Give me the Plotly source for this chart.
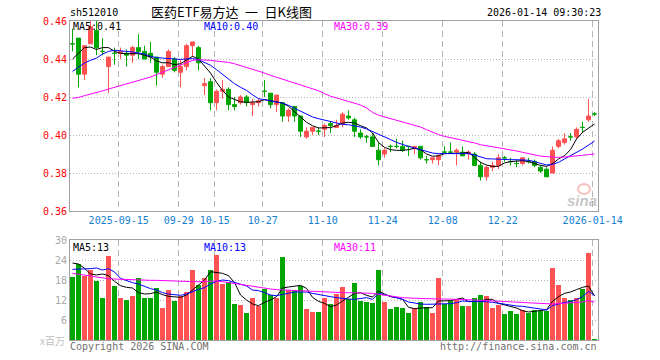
import plotly.graph_objects as go

W, H = 660, 360

# ---------------- data ----------------
opens = [0.448, 0.451, 0.432, 0.448, 0.455, 0.444, 0.436, 0.443, 0.443, 0.443,
         0.442, 0.446, 0.444, 0.443, 0.441, 0.432, 0.436, 0.440, 0.433, 0.436,
         0.447, 0.446, 0.426, 0.428, 0.417, 0.423, 0.424, 0.416, 0.417, 0.420,
         0.416, 0.417, 0.423, 0.422, 0.416, 0.417, 0.410, 0.415, 0.410, 0.399,
         0.402, 0.402, 0.403, 0.406, 0.404, 0.406, 0.410, 0.408, 0.401, 0.399,
         0.399, 0.392, 0.390, 0.394, 0.394, 0.394, 0.394, 0.393, 0.394, 0.387,
         0.387, 0.387, 0.391, 0.391, 0.391, 0.391, 0.390, 0.390, 0.384, 0.378,
         0.383, 0.384, 0.388, 0.386, 0.385, 0.385, 0.386, 0.386, 0.383, 0.382,
         0.380, 0.394, 0.396, 0.399, 0.399, 0.404, 0.408, 0.411]
highs = [0.456, 0.451, 0.447, 0.460, 0.460, 0.451, 0.441, 0.446, 0.446, 0.445,
         0.447, 0.453, 0.447, 0.449, 0.441, 0.437, 0.445, 0.441, 0.440, 0.448,
         0.449, 0.447, 0.430, 0.430, 0.424, 0.429, 0.425, 0.420, 0.421, 0.421,
         0.419, 0.419, 0.429, 0.422, 0.421, 0.417, 0.414, 0.415, 0.410, 0.404,
         0.404, 0.404, 0.406, 0.407, 0.408, 0.412, 0.413, 0.409, 0.403, 0.400,
         0.401, 0.396, 0.393, 0.395, 0.398, 0.397, 0.394, 0.394, 0.394, 0.389,
         0.388, 0.390, 0.394, 0.396, 0.393, 0.394, 0.392, 0.391, 0.386, 0.384,
         0.386, 0.390, 0.389, 0.388, 0.387, 0.388, 0.388, 0.387, 0.384, 0.383,
         0.394, 0.398, 0.401, 0.401, 0.404, 0.407, 0.419, 0.412]
lows = [0.444, 0.425, 0.429, 0.448, 0.442, 0.442, 0.422, 0.437, 0.440, 0.436,
        0.438, 0.440, 0.440, 0.438, 0.426, 0.430, 0.436, 0.433, 0.425, 0.434,
        0.441, 0.434, 0.421, 0.413, 0.413, 0.419, 0.413, 0.413, 0.416, 0.415,
        0.410, 0.415, 0.420, 0.414, 0.412, 0.407, 0.407, 0.407, 0.399, 0.398,
        0.400, 0.400, 0.399, 0.401, 0.404, 0.404, 0.408, 0.399, 0.398, 0.396,
        0.394, 0.384, 0.388, 0.391, 0.393, 0.391, 0.389, 0.390, 0.387, 0.385,
        0.385, 0.384, 0.390, 0.390, 0.384, 0.389, 0.387, 0.384, 0.376, 0.376,
        0.381, 0.382, 0.386, 0.384, 0.383, 0.384, 0.385, 0.383, 0.380, 0.378,
        0.380, 0.393, 0.395, 0.397, 0.398, 0.401, 0.407, 0.410]
closes = [0.448, 0.432, 0.447, 0.457, 0.446, 0.444, 0.441, 0.443, 0.444, 0.442,
          0.446, 0.444, 0.440, 0.441, 0.433, 0.436, 0.444, 0.434, 0.436, 0.447,
          0.449, 0.438, 0.427, 0.417, 0.423, 0.424, 0.416, 0.415, 0.420, 0.417,
          0.417, 0.418, 0.423, 0.416, 0.421, 0.410, 0.413, 0.410, 0.402, 0.402,
          0.404, 0.402, 0.405, 0.405, 0.405, 0.411, 0.409, 0.402, 0.399, 0.399,
          0.394, 0.387, 0.392, 0.394, 0.394, 0.392, 0.394, 0.394, 0.388, 0.387,
          0.388, 0.389, 0.391, 0.391, 0.392, 0.389, 0.391, 0.384, 0.378, 0.383,
          0.384, 0.388, 0.388, 0.386, 0.385, 0.388, 0.386, 0.384, 0.381, 0.378,
          0.392, 0.397, 0.398, 0.399, 0.403, 0.404, 0.410, 0.411]
volumes = [18.9, 22.9, 19.2, 21.0, 17.8, 12.6, 25.2, 16.2, 12.6, 12.0,
           13.2, 18.6, 12.6, 12.6, 15.6, 9.6, 15.0, 11.7, 13.2, 14.4,
           21.0, 16.5, 18.6, 21.0, 25.5, 16.8, 17.4, 10.8, 10.5, 8.1,
           12.6, 10.2, 15.3, 13.5, 12.6, 24.9, 15.0, 15.0, 16.2, 9.3,
           8.4, 8.4, 12.6, 10.8, 13.8, 15.9, 12.3, 17.1, 11.7, 11.4,
           11.1, 21.0, 11.4, 9.3, 9.9, 9.6, 8.1, 9.6, 11.4, 9.9,
           8.1, 18.6, 10.8, 11.7, 12.3, 10.2, 10.2, 12.6, 13.5, 13.2,
           9.6, 10.5, 7.8, 8.7, 7.8, 9.0, 8.1, 9.0, 8.7, 8.7,
           21.6, 16.5, 12.6, 12.0, 12.6, 15.3, 26.1, 0.3]

ma5 = [0.440, 0.443, 0.446, 0.4463, 0.445, 0.446, 0.446, 0.444, 0.443, 0.4428,
       0.4428, 0.4428, 0.442, 0.441, 0.439, 0.438, 0.438, 0.437, 0.4375, 0.4396,
       0.4414, 0.440, 0.4365, 0.4326, 0.4277, 0.4235, 0.420, 0.4186, 0.4175, 0.4172,
       0.4172, 0.4175, 0.4186, 0.418, 0.4175, 0.4168, 0.4151, 0.4125, 0.4095, 0.4067,
       0.4049, 0.4037, 0.4037, 0.4039, 0.4049, 0.4063, 0.4067, 0.4063, 0.4049, 0.4037,
       0.4011, 0.3961, 0.3935, 0.3923, 0.3919, 0.3919, 0.3923, 0.393, 0.3923, 0.390,
       0.3888, 0.3891, 0.3902, 0.3902, 0.3902, 0.3905, 0.3909, 0.3884, 0.3856, 0.3842,
       0.3835, 0.3835, 0.3853, 0.386, 0.3863, 0.3865, 0.386, 0.3849, 0.384, 0.3835,
       0.3849, 0.3874, 0.3891, 0.3923, 0.3979, 0.4014, 0.4037, 0.4058]
ma10 = [0.4335, 0.4356, 0.4379, 0.4393, 0.4405, 0.4426, 0.444, 0.4446, 0.4444, 0.444,
        0.4437, 0.4432, 0.4426, 0.4414, 0.4407, 0.4405, 0.4404, 0.440, 0.4398, 0.440,
        0.4402, 0.4396, 0.4382, 0.4367, 0.4344, 0.4318, 0.4295, 0.427, 0.4251, 0.4235,
        0.4212, 0.4191, 0.4186, 0.418, 0.4175, 0.4168, 0.4156, 0.414, 0.4125, 0.4107,
        0.4095, 0.4086, 0.4079, 0.4072, 0.4061, 0.4056, 0.4054, 0.4049, 0.4042, 0.4032,
        0.4019, 0.4005, 0.3993, 0.3976, 0.3961, 0.3949, 0.394, 0.3932, 0.3923, 0.3914,
        0.3905, 0.3902, 0.3902, 0.3902, 0.3904, 0.3905, 0.3902, 0.3895, 0.3884, 0.3875,
        0.3874, 0.3872, 0.387, 0.387, 0.387, 0.387, 0.3867, 0.386, 0.3853, 0.3842,
        0.3846, 0.3856, 0.3874, 0.3891, 0.3909, 0.3926, 0.3947, 0.3968]
ma30 = [0.4193, 0.4198, 0.4207, 0.4214, 0.4221, 0.4232, 0.4242, 0.4251, 0.426, 0.427,
        0.4277, 0.4286, 0.4295, 0.4305, 0.4318, 0.433, 0.4344, 0.4356, 0.437, 0.4382,
        0.4393, 0.4396, 0.4395, 0.4393, 0.4389, 0.4386, 0.4382, 0.4375, 0.4365, 0.4356,
        0.4347, 0.4339, 0.4326, 0.4314, 0.4304, 0.4293, 0.4284, 0.4274, 0.4263, 0.4253,
        0.4244, 0.4233, 0.4218, 0.4204, 0.4195, 0.4186, 0.4177, 0.4168, 0.4158, 0.4142,
        0.4119, 0.4104, 0.4095, 0.4086, 0.4077, 0.4067, 0.4058, 0.4049, 0.4042, 0.4028,
        0.4014, 0.4002, 0.3993, 0.3986, 0.3981, 0.3976, 0.3967, 0.3958, 0.3949, 0.3944,
        0.3937, 0.3932, 0.3926, 0.3921, 0.3916, 0.3909, 0.3902, 0.3895, 0.3889, 0.3886,
        0.3884, 0.3882, 0.3884, 0.3886, 0.3889, 0.3893, 0.3897, 0.390]

vma5 = [23.1, 22.8, 21.5, 19.8, 19.5, 19.8, 19.3, 17.6, 16.3, 15.8,
        15.6, 14.2, 13.8, 13.9, 14.4, 13.6, 13.1, 13.0, 12.8, 13.5,
        15.0, 16.5, 18.0, 20.5, 20.3, 20.0, 19.3, 17.2, 13.5, 12.0,
        10.8, 10.3, 11.3, 12.0, 13.0, 15.6, 15.9, 16.2, 16.4, 15.5,
        12.8, 11.6, 11.0, 10.0, 10.5, 11.7, 12.8, 14.0, 14.2, 13.4,
        12.9, 14.7, 13.8, 13.0, 12.7, 12.2, 9.8, 9.4, 9.6, 9.6,
        9.7, 11.7, 11.7, 11.8, 12.2, 12.6, 11.5, 11.6, 11.6, 12.2,
        12.2, 11.0, 10.5, 9.9, 9.6, 8.8, 8.4, 8.6, 8.8, 9.1,
        11.6, 13.0, 14.0, 14.4, 15.1, 15.8, 16.2, 13.2]
vma10 = [21.2, 21.2, 21.3, 21.4, 21.6, 21.0, 21.4, 20.4, 18.5, 17.8,
         17.2, 16.8, 16.0, 15.4, 15.0, 14.2, 13.8, 13.5, 13.4, 13.8,
         14.6, 15.2, 15.7, 16.8, 17.6, 18.0, 17.8, 17.2, 16.8, 16.2,
         15.0, 14.8, 14.2, 13.5, 13.3, 13.6, 14.0, 14.4, 14.4, 14.4,
         14.0, 13.6, 13.4, 13.0, 12.7, 12.4, 12.3, 12.2, 12.5, 12.7,
         12.2, 14.0, 13.6, 13.2, 12.8, 12.2, 11.4, 11.0, 10.8, 10.7,
         10.7, 10.7, 10.7, 10.9, 11.2, 11.7, 11.6, 11.6, 11.6, 11.5,
         11.3, 11.0, 10.8, 10.5, 10.2, 10.1, 9.9, 9.6, 9.3, 9.0,
         10.3, 10.8, 11.3, 11.5, 12.1, 13.0, 14.6, 13.4]
vma30 = [20.0, 19.8, 19.5, 19.2, 18.9, 18.6, 18.4, 18.3, 18.2, 18.1,
         18.0, 18.0, 17.9, 17.9, 17.9, 17.8, 17.7, 17.6, 17.5, 17.5,
         17.5, 17.5, 17.6, 17.7, 17.7, 17.5, 17.2, 17.0, 16.7, 16.4,
         16.0, 15.8, 15.6, 15.3, 15.1, 15.0, 15.0, 14.9, 14.8, 14.7,
         14.6, 14.5, 14.3, 14.2, 14.2, 14.2, 14.2, 14.2, 14.2, 14.2,
         14.0, 13.7, 13.4, 13.1, 12.9, 12.7, 12.6, 12.5, 12.5, 12.4,
         12.4, 12.3, 12.3, 12.3, 12.2, 12.2, 12.1, 12.0, 11.9, 11.8,
         11.7, 11.6, 11.5, 11.4, 11.3, 11.1, 11.0, 10.9, 10.8, 10.7,
         10.8, 10.9, 11.0, 11.1, 11.2, 11.4, 11.8, 11.4]

tick_index = [8, 18, 24, 32, 42, 52, 62, 72, 87]
tick_labels = ["2025-09-15", "09-29", "10-15", "10-27", "11-10",
               "11-24", "12-08", "12-22", "2026-01-14"]
price_ticks = [0.36, 0.38, 0.40, 0.42, 0.44, 0.46]
vol_ticks = [6, 12, 18, 24, 30]

# ---------------- styling ----------------
RED = "#ff5252"
GREEN = "#00a600"
BLUE_TXT = "#1480d0"
MONO = "DejaVu Sans Mono"
GRID = "#b4b4b4"
BORDER = "#a0a0a0"

idx = list(range(len(closes)))
up = [c > o for o, c in zip(opens, closes)]
ri = [i for i in idx if up[i]]
gi = [i for i in idx if not up[i]]

fig = go.Figure()


def candle(sel, color):
    return go.Candlestick(
        x=sel,
        open=[opens[i] for i in sel], high=[highs[i] for i in sel],
        low=[lows[i] for i in sel], close=[closes[i] for i in sel],
        increasing=dict(line=dict(color=color, width=1), fillcolor=color),
        decreasing=dict(line=dict(color=color, width=1), fillcolor=color),
        whiskerwidth=0, xaxis="x", yaxis="y", showlegend=False, hoverinfo="skip")


fig.add_trace(candle(ri, RED))
fig.add_trace(candle(gi, GREEN))

for series, col in [(ma5, "black"), (ma10, "#0000ff"), (ma30, "#ff00ff")]:
    fig.add_trace(go.Scatter(x=idx, y=series, mode="lines", line=dict(color=col, width=1),
                             xaxis="x", yaxis="y", showlegend=False, hoverinfo="skip"))

fig.add_trace(go.Bar(x=idx, y=volumes, width=5 / 6,
                     marker=dict(color=[RED if u else GREEN for u in up], line=dict(width=0)),
                     xaxis="x2", yaxis="y2", showlegend=False, hoverinfo="skip"))

for series, col in [(vma5, "black"), (vma10, "#0000ff"), (vma30, "#ff00ff")]:
    fig.add_trace(go.Scatter(x=idx, y=series, mode="lines", line=dict(color=col, width=1),
                             xaxis="x2", yaxis="y2", showlegend=False, hoverinfo="skip"))

xdom = [70 / W, 598 / W]
xr = [-0.42, len(closes) - 1 + 0.58]
tv = [t - 0.3 for t in tick_index]

common_x = dict(domain=xdom, range=xr, tickvals=tv, showgrid=True, gridcolor=GRID,
                griddash="6px,4px", gridwidth=1, showline=True, linecolor=BORDER, linewidth=1,
                mirror=True, ticks="", zeroline=False, fixedrange=True, automargin=False)
common_y = dict(showgrid=True, gridcolor=GRID, griddash="1px,2px", gridwidth=1,
                showline=True, linecolor=BORDER, linewidth=1, mirror=True, ticks="",
                zeroline=False, fixedrange=True, automargin=False)

fig.update_layout(
    width=W, height=H, margin=dict(l=0, r=0, t=0, b=0, pad=0, autoexpand=False),
    paper_bgcolor="white", plot_bgcolor="white", showlegend=False,
    boxgap=1 / 3, boxgroupgap=0, bargap=0,
    xaxis=dict(**common_x, anchor="y", ticktext=tick_labels,
               tickfont=dict(family=MONO, size=10, color=BLUE_TXT),
               rangeslider=dict(visible=False)),
    yaxis=dict(**common_y, domain=[1 - 211 / H, 1 - 21 / H], range=[0.36, 0.46],
               tickvals=price_ticks, ticktext=[f"{v:.2f}" for v in price_ticks],
               tickfont=dict(family=MONO, size=10, color="#ff0000"), anchor="x"),
    xaxis2=dict(**common_x, anchor="y2", showticklabels=False),
    yaxis2=dict(**common_y, domain=[1 - 340 / H, 1 - 240 / H], range=[0, 30],
                tickvals=vol_ticks, ticktext=[str(v) for v in vol_ticks],
                tickfont=dict(family=MONO, size=10, color="#a8a8a8"), anchor="x2"),
)


def ann(text, x, y, color="black", size=10, family=MONO, xanchor="left", **kw):
    fig.add_annotation(text=text, x=x / W, y=1 - y / H, xref="paper", yref="paper",
                       xanchor=xanchor, yanchor="middle", showarrow=False, borderpad=0,
                       font=dict(family=family, size=size, color=color), **kw)


ann("sh512010", 69, 13)
ann("医药ETF易方达\u2002一\u2002日K线图", 150, 12, size=13, family="Noto Sans CJK SC")
ann("2026-01-14 09:30:23", 602, 13, xanchor="right")

ann(f"MA5:{ma5[-1]:.2f}", 72, 27)
ann(f"MA10:{ma10[-1]:.2f}", 203, 27, color="#0000ff")
ann(f"MA30:{ma30[-1]:.2f}", 333, 27, color="#ff00ff")

ann(f"MA5:{vma5[-1]:.0f}", 72, 247)
ann(f"MA10:{vma10[-1]:.0f}", 203, 247, color="#0000ff")
ann(f"MA30:{vma30[-1]:.0f}", 333, 247, color="#ff00ff")

ann("x百万", 66, 340, color="#c0c0c0", size=10, family="Noto Sans CJK SC", xanchor="right")
ann("Copyright 2026 SINA.COM", 69, 346, color="#707070")
ann("http://finance.sina.com.cn", 598, 346, color="#707070", xanchor="right")

# sina watermark
ann("<b><i>sina</i></b>", 582, 200, color="rgba(150,150,150,0.55)", size=15,
    family="Liberation Sans", xanchor="center")
fig.add_shape(type="circle", xref="paper", yref="paper",
              x0=578 / W, x1=590 / W, y0=1 - 194 / H, y1=1 - 184 / H,
              line=dict(color="rgba(240,150,150,0.6)", width=2), fillcolor="rgba(0,0,0,0)")

fig.write_html("out.html", config={"displayModeBar": False},
               post_script="document.body.style.margin='0';")
